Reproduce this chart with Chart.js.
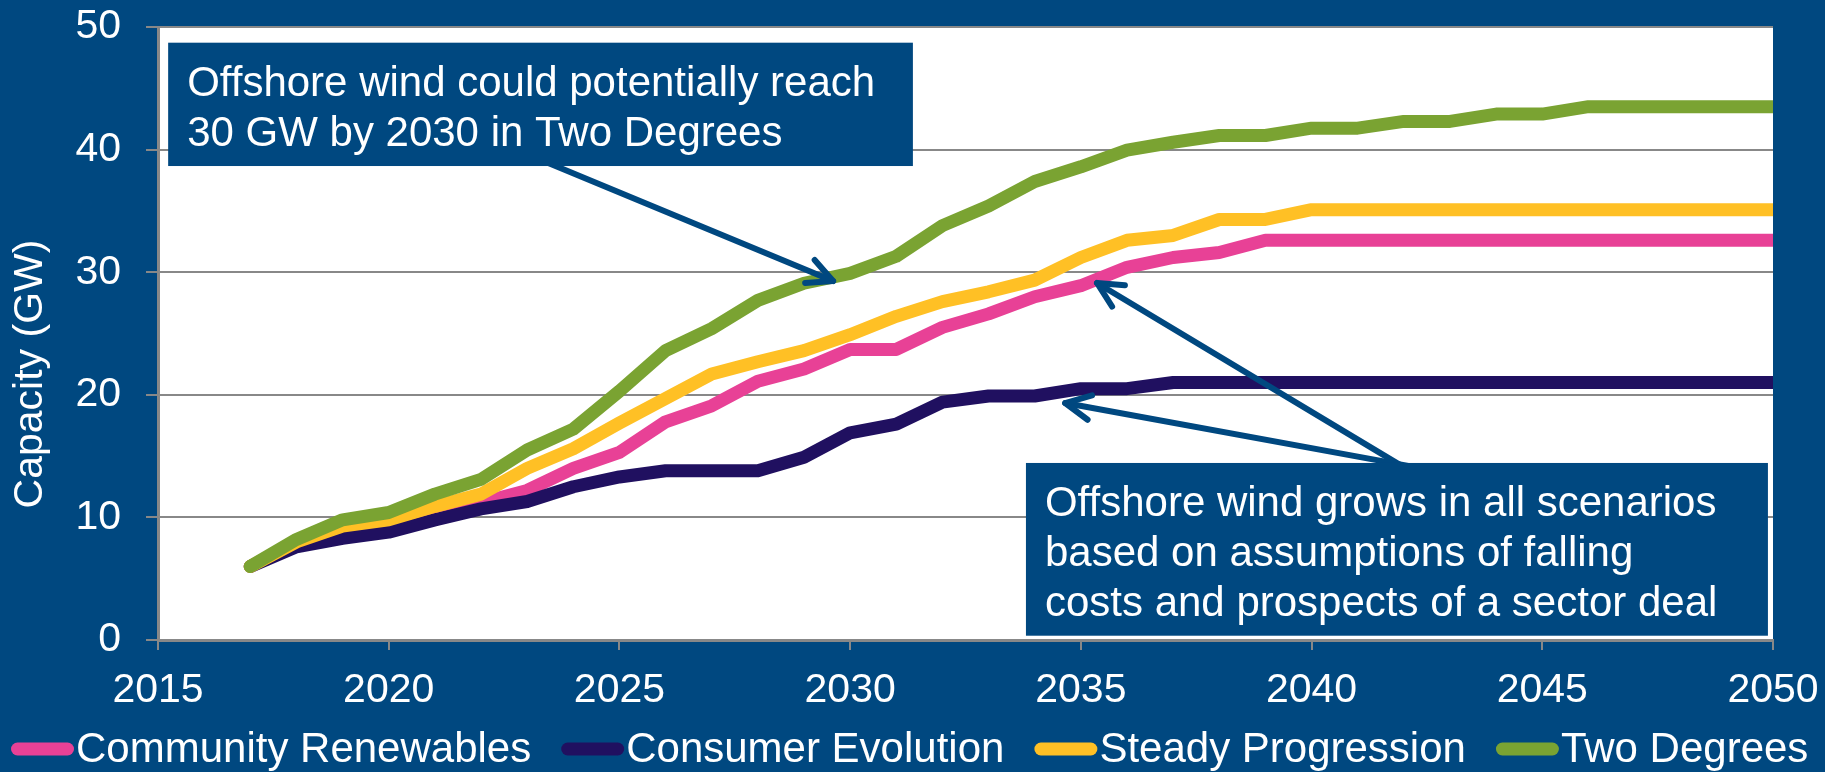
<!DOCTYPE html>
<html>
<head>
<meta charset="utf-8">
<script src="https://cdn.jsdelivr.net/npm/chart.js@4/dist/chart.umd.min.js"></script>
<style>
  html, body { margin: 0; padding: 0; background: #004880; }
  #wrap { width: 1825px; height: 772px; }
</style>
</head>
<body>
<div id="wrap"><canvas id="windChart" width="1825" height="772"></canvas></div>
<script>
var years = [2017, 2018, 2019, 2020, 2021, 2022, 2023, 2024, 2025, 2026, 2027, 2028, 2029, 2030, 2031, 2032, 2033,
             2034, 2035, 2036, 2037, 2038, 2039, 2040, 2041, 2042, 2043, 2044, 2045, 2046, 2047, 2048, 2049, 2050];

var communityRenewables = [6.0, 7.9, 9.0, 9.4, 10.3, 11.2, 12.2, 14.0, 15.3, 17.8, 19.1, 21.1, 22.1, 23.7, 23.7, 25.5, 26.6,
                           28.0, 28.9, 30.4, 31.2, 31.6, 32.6, 32.6, 32.6, 32.6, 32.6, 32.6, 32.6, 32.6, 32.6, 32.6, 32.6, 32.6];
var consumerEvolution = [6.0, 7.6, 8.3, 8.8, 9.8, 10.7, 11.3, 12.5, 13.3, 13.8, 13.8, 13.8, 14.9, 16.9, 17.6, 19.4, 19.9,
                         19.9, 20.5, 20.5, 21.0, 21.0, 21.0, 21.0, 21.0, 21.0, 21.0, 21.0, 21.0, 21.0, 21.0, 21.0, 21.0, 21.0];
var steadyProgression = [6.0, 8.0, 9.3, 9.8, 10.9, 11.9, 14.0, 15.6, 17.7, 19.7, 21.7, 22.7, 23.6, 24.9, 26.4, 27.6, 28.4,
                         29.35, 31.2, 32.6, 33.0, 34.3, 34.3, 35.1, 35.1, 35.1, 35.1, 35.1, 35.1, 35.1, 35.1, 35.1, 35.1, 35.1];
var twoDegrees = [6.0, 8.2, 9.8, 10.4, 11.9, 13.1, 15.5, 17.2, 20.3, 23.6, 25.4, 27.7, 29.1, 29.9, 31.3, 33.8, 35.4,
                  37.4, 38.6, 39.95, 40.6, 41.15, 41.15, 41.75, 41.75, 42.3, 42.3, 42.9, 42.9, 43.5, 43.5, 43.5, 43.5, 43.5];

var seriesNames = ['Community Renewables', 'Consumer Evolution', 'Steady Progression', 'Two Degrees'];
var seriesColors = ['#E84196', '#201060', '#FFC025', '#7AA332'];

var xTicks = [2015, 2050, 5];
var yTicks = [0, 50, 10];
var yTitle = 'Capacity (GW)';

var noteBoxes = [
    { from: [2015.22, 48.72], to: [2031.36, 38.66],
      lines: ['Offshore wind could potentially reach', '30 GW by 2030 in Two Degrees'] },
    { from: [2033.81, 14.44], to: [2049.89, 0.35],
      lines: ['Offshore wind grows in all scenarios', 'based on assumptions of falling', 'costs and prospects of a sector deal'] }
];
var noteArrows = [
    { from: [2023.04, 39.56], to: [2029.63, 29.28] },
    { from: [2042.05, 13.98], to: [2035.35, 29.12] },
    { from: [2042.42, 13.98], to: [2034.66, 19.33] }
];

var BG = '#004880';
var GRID = '#888888';
var FONT = "'Liberation Sans', Arial, sans-serif";
var FSIZE = 41;

function toPoints(vals) {
    return years.map(function (y, i) { return { x: y, y: vals[i] }; });
}

var allSeries = [communityRenewables, consumerEvolution, steadyProgression, twoDegrees];
var datasets = allSeries.map(function (vals, i) {
    return {
        label: seriesNames[i],
        data: toPoints(vals),
        borderColor: seriesColors[i],
        backgroundColor: seriesColors[i],
        borderWidth: 13,
        pointRadius: 0,
        tension: 0,
        borderJoinStyle: 'round',
        borderCapStyle: 'round',
        order: allSeries.length - i   // later series on top, like the original
    };
});

// background + white plot area
var bgPlugin = {
    id: 'bgPlugin',
    beforeDraw: function (chart) {
        var ctx = chart.ctx, a = chart.chartArea;
        ctx.save();
        ctx.fillStyle = BG;
        ctx.fillRect(0, 0, chart.width, chart.height);
        ctx.fillStyle = '#ffffff';
        ctx.fillRect(a.left, a.top, a.right - a.left, a.bottom - a.top);
        ctx.restore();
    }
};

function drawArrow(ctx, x1, y1, x2, y2) {
    ctx.beginPath();
    ctx.moveTo(x1, y1);
    ctx.lineTo(x2, y2);
    ctx.stroke();
    var ang = Math.atan2(y1 - y2, x1 - x2), L = 28, s = 0.46;
    ctx.beginPath();
    ctx.moveTo(x2 + L * Math.cos(ang + s), y2 + L * Math.sin(ang + s));
    ctx.lineTo(x2, y2);
    ctx.lineTo(x2 + L * Math.cos(ang - s), y2 + L * Math.sin(ang - s));
    ctx.stroke();
}

// callouts, y title, legend
var notesPlugin = {
    id: 'notesPlugin',
    afterDatasetsDraw: function (chart) {
        var ctx = chart.ctx, xs = chart.scales.x, ys = chart.scales.y;
        ctx.save();
        ctx.strokeStyle = BG;
        ctx.lineWidth = 6;
        ctx.lineCap = 'round';
        ctx.lineJoin = 'round';
        noteArrows.forEach(function (a) {
            drawArrow(ctx, xs.getPixelForValue(a.from[0]), ys.getPixelForValue(a.from[1]),
                      xs.getPixelForValue(a.to[0]), ys.getPixelForValue(a.to[1]));
        });
        noteBoxes.forEach(function (b) {
            var l = xs.getPixelForValue(b.from[0]), t = ys.getPixelForValue(b.from[1]);
            var r = xs.getPixelForValue(b.to[0]), btm = ys.getPixelForValue(b.to[1]);
            ctx.fillStyle = BG;
            ctx.fillRect(l, t, r - l, btm - t);
            ctx.fillStyle = '#ffffff';
            ctx.font = '42px ' + FONT;
            ctx.textAlign = 'left';
            ctx.textBaseline = 'alphabetic';
            b.lines.forEach(function (txt, i) {
                ctx.fillText(txt, l + 19, t + 53 + i * 50);
            });
        });
        ctx.restore();
    },
    afterDraw: function (chart) {
        var ctx = chart.ctx;
        ctx.save();
        // y axis title
        ctx.fillStyle = '#ffffff';
        ctx.font = FSIZE + 'px ' + FONT;
        ctx.translate(31, 374);
        ctx.rotate(-Math.PI / 2);
        ctx.textAlign = 'center';
        ctx.textBaseline = 'middle';
        ctx.fillText(yTitle, 0, 0);
        ctx.restore();

        // legend
        ctx.save();
        ctx.font = '42px ' + FONT;
        ctx.textBaseline = 'middle';
        ctx.textAlign = 'left';
        var x = 11, y = 749;
        chart.data.datasets.forEach(function (ds) {
            ctx.strokeStyle = ds.borderColor;
            ctx.lineWidth = 13;
            ctx.lineCap = 'round';
            ctx.beginPath();
            ctx.moveTo(x + 6.5, y);
            ctx.lineTo(x + 56.5, y);
            ctx.stroke();
            ctx.fillStyle = '#ffffff';
            ctx.fillText(ds.label, x + 65, y + 1);
            x += 65 + ctx.measureText(ds.label).width + 30;
        });
        ctx.restore();
    }
};

var ctx = document.getElementById('windChart').getContext('2d');
var windChart = new Chart(ctx, {
    type: 'line',
    data: { datasets: datasets },
    options: {
        responsive: false,
        animation: false,
        devicePixelRatio: 1,
        layout: { padding: { left: 0, right: 52, top: 27, bottom: 52 } },
        plugins: {
            legend: { display: false },
            tooltip: { enabled: false }
        },
        scales: {
            x: {
                type: 'linear',
                min: xTicks[0],
                max: xTicks[1],
                afterFit: function (s) { s.height = 80; s.paddingLeft = 0; s.paddingRight = 0; },
                ticks: {
                    stepSize: xTicks[2],
                    color: '#ffffff',
                    font: { family: FONT, size: FSIZE },
                    padding: 16,
                    maxRotation: 0,
                    callback: function (v) { return String(v); }
                },
                grid: { drawOnChartArea: false, drawTicks: true, tickLength: 10, color: GRID, lineWidth: 2 },
                border: { color: GRID, width: 3 }
            },
            y: {
                min: yTicks[0],
                max: yTicks[1],
                afterFit: function (s) { s.width = 158; s.paddingTop = 0; s.paddingBottom = 0; },
                ticks: {
                    stepSize: yTicks[2],
                    color: '#ffffff',
                    font: { family: FONT, size: FSIZE },
                    padding: 25
                },
                grid: { color: GRID, lineWidth: 2, tickLength: 12 },
                border: { color: GRID, width: 3 }
            }
        }
    },
    plugins: [bgPlugin, notesPlugin]
});
</script>
</body>
</html>
